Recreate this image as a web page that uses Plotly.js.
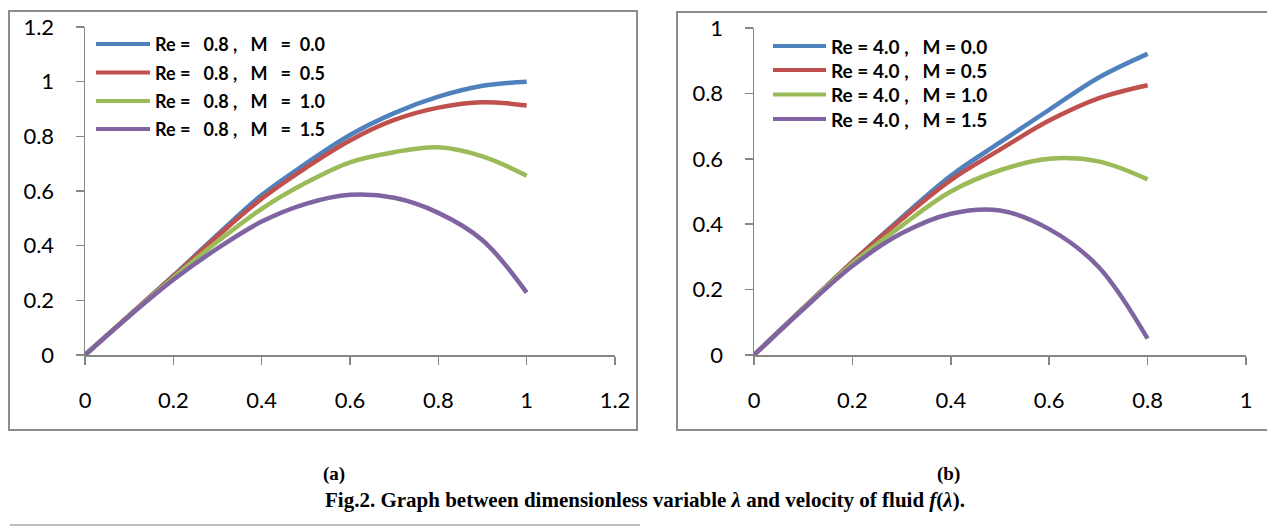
<!DOCTYPE html>
<html>
<head>
<meta charset="utf-8">
<script src="https://cdn.plot.ly/plotly-3.0.1.min.js"></script>
<style>html,body{margin:0;padding:0;background:#fff;}#chart{width:1267px;height:527px;}</style>
</head>
<body>
<div id="chart"></div>
<script>
// Panel (a): Re = 0.8
const lambdaA = [0, 0.1, 0.2, 0.3, 0.4, 0.5, 0.6, 0.7, 0.8, 0.9, 1.0];
const fA_M00 = [0, 0.145, 0.29, 0.44, 0.585, 0.70, 0.805, 0.885, 0.945, 0.985, 1.0];
const fA_M05 = [0, 0.145, 0.288, 0.435, 0.572, 0.685, 0.785, 0.86, 0.905, 0.925, 0.913];
const fA_M10 = [0, 0.143, 0.283, 0.415, 0.535, 0.630, 0.705, 0.742, 0.76, 0.727, 0.656];
const fA_M15 = [0, 0.142, 0.275, 0.39, 0.488, 0.553, 0.586, 0.575, 0.52, 0.42, 0.228];
// Panel (b): Re = 4.0
const lambdaB = [0, 0.1, 0.2, 0.3, 0.4, 0.5, 0.6, 0.7, 0.8];
const fB_M00 = [0, 0.143, 0.285, 0.42, 0.548, 0.65, 0.75, 0.848, 0.921];
const fB_M05 = [0, 0.143, 0.285, 0.415, 0.535, 0.628, 0.717, 0.785, 0.825];
const fB_M10 = [0, 0.142, 0.28, 0.395, 0.5, 0.565, 0.6, 0.592, 0.537];
const fB_M15 = [0, 0.14, 0.272, 0.372, 0.432, 0.442, 0.385, 0.27, 0.05];

const S = '\u00a0';
const namesA = ["0.0", "0.5", "1.0", "1.5"].map(m => "Re =" + S + S + S + "0.8 ," + S + S + S + "M" + S + S + S + "=" + S + S + m);
const namesB = ["0.0", "0.5", "1.0", "1.5"].map(m => "Re = 4.0 ," + S + S + S + "M = " + m);
const colors = ["#4F81BD", "#C0504D", "#9BBB59", "#8064A2"];

const seriesA = [fA_M00, fA_M05, fA_M10, fA_M15];
const seriesB = [fB_M00, fB_M05, fB_M10, fB_M15];

const traces = [];
seriesA.forEach((ys, i) => traces.push({
  x: lambdaA, y: ys, type: 'scatter', mode: 'lines', name: namesA[i],
  line: {color: colors[i], width: 4.5, shape: 'spline', smoothing: 1},
  xaxis: 'x', yaxis: 'y', showlegend: false
}));
seriesB.forEach((ys, i) => traces.push({
  x: lambdaB, y: ys, type: 'scatter', mode: 'lines', name: namesB[i],
  line: {color: colors[i], width: 4.5, shape: 'spline', smoothing: 1},
  xaxis: 'x2', yaxis: 'y2', showlegend: false
}));

const W = 1267, H = 527;
const px = v => v / W;
const py = v => 1 - v / H;

const tickFont = {family: 'Lato, "Liberation Sans", sans-serif', size: 22, color: '#000'};
const axisCommon = {
  showgrid: false, zeroline: false, showline: true, linecolor: '#868686', linewidth: 1.5,
  ticks: 'outside', ticklen: 8, tickcolor: '#868686', tickwidth: 1.5,
  tickfont: tickFont, fixedrange: true
};

// manual legends (line samples as shapes, labels as text)
const legFontA = {family: 'Lato, "Liberation Sans", sans-serif', size: 18, color: '#000', weight: 'bold'};
const legFontB = {family: 'Lato, "Liberation Sans", sans-serif', size: 19, color: '#000', weight: 'bold'};
const legA = {x0: 96, x1: 150, tx: 153, rows: [44, 72.5, 101, 129], font: legFontA};
const legB = {x0: 773, x1: 826, tx: 829, rows: [46, 70, 94.5, 119], font: legFontB};
const shapes = [
  {type: 'rect', xref: 'paper', yref: 'paper', x0: px(9), x1: px(637), y0: py(430), y1: py(11), line: {color: '#8c8c8c', width: 2}},
  {type: 'rect', xref: 'paper', yref: 'paper', x0: px(677), x1: px(1275), y0: py(430), y1: py(12), line: {color: '#8c8c8c', width: 2}},
  {type: 'line', xref: 'paper', yref: 'paper', x0: px(10), x1: px(640), y0: py(525), y1: py(525), line: {color: '#aaaaaa', width: 1.5}}
];
const annotations = [];
[[legA, namesA], [legB, namesB]].forEach(([lg, names]) => {
  names.forEach((nm, i) => {
    shapes.push({type: 'line', xref: 'paper', yref: 'paper', x0: px(lg.x0), x1: px(lg.x1), y0: py(lg.rows[i]), y1: py(lg.rows[i]), line: {color: colors[i], width: 4}});
    annotations.push({xref: 'paper', yref: 'paper', x: px(lg.tx), y: py(lg.rows[i]), xanchor: 'left', yanchor: 'middle', text: nm, showarrow: false, font: lg.font});
  });
});
const labFont = {family: '"Liberation Serif", "Times New Roman", serif', size: 19, color: '#000'};
const capFont = {family: '"Liberation Serif", "Times New Roman", serif', size: 21, color: '#000'};
annotations.push(
  {xref: 'paper', yref: 'paper', x: px(321), y: py(487), text: '<b>(a)</b>', showarrow: false, font: labFont},
  {xref: 'paper', yref: 'paper', x: px(962), y: py(487), text: '<b>(b)</b>', showarrow: false, font: labFont},
  {xref: 'paper', yref: 'paper', x: px(645), y: py(514), text: '<b>Fig.2. Graph between dimensionless variable <i>λ</i> and velocity of fluid <i>f</i>(<i>λ</i>).</b>', showarrow: false, font: capFont}
);

const layout = {
  width: W, height: H,
  margin: {l: 0, r: 0, t: 0, b: 0},
  paper_bgcolor: '#fff', plot_bgcolor: 'rgba(0,0,0,0)',
  showlegend: false,
  xaxis: Object.assign({}, axisCommon, {domain: [px(85), px(615)], range: [0, 1.2], dtick: 0.2, tick0: 0, anchor: 'y', ticklabelstandoff: 17}),
  yaxis: Object.assign({}, axisCommon, {domain: [py(355), py(27)], range: [0, 1.2], dtick: 0.2, tick0: 0, anchor: 'x', ticklabelstandoff: 17}),
  xaxis2: Object.assign({}, axisCommon, {domain: [px(754), px(1246)], range: [0, 1], dtick: 0.2, tick0: 0, anchor: 'y2', ticklabelstandoff: 17}),
  yaxis2: Object.assign({}, axisCommon, {domain: [py(355), py(28)], range: [0, 1], dtick: 0.2, tick0: 0, anchor: 'x2', ticklabelstandoff: 17}),
  shapes: shapes,
  annotations: annotations
};

Plotly.newPlot('chart', traces, layout, {displayModeBar: false, staticPlot: true});
</script>
</body>
</html>
